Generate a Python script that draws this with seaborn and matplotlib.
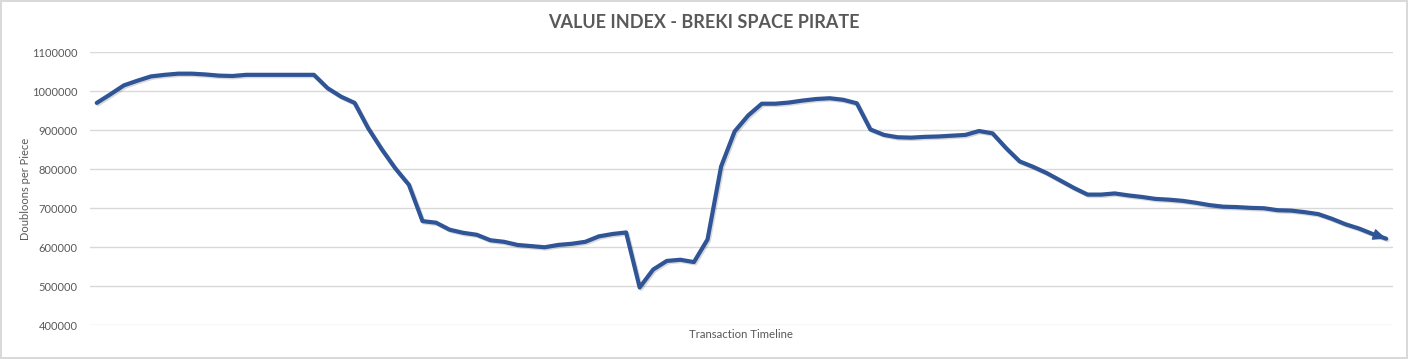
import numpy as np
import pandas as pd
import seaborn as sns
import matplotlib.pyplot as plt
import matplotlib.patheffects as pe

# Values (doubloons per piece, one per transaction)
values = [
    970000, 992000, 1015000, 1027000, 1038000, 1042000, 1045000, 1045000,
    1043000, 1040000, 1039000, 1042000, 1042000, 1042000, 1042000, 1042000,
    1042000, 1008000, 986000, 970000, 905000, 851000, 802000, 760000,
    667000, 663000, 645000, 637000, 632000, 618000, 614000, 606000,
    603000, 600000, 606000, 609000, 614000, 628000, 634000, 638000,
    497000, 543000, 565000, 568000, 562000, 620000, 807000, 897000,
    938000, 968000, 968000, 971000, 976000, 980000, 982000, 978000,
    969000, 902000, 888000, 882000, 881000, 883000, 884000, 886000,
    888000, 898000, 892000, 854000, 820000, 806000, 790000, 771000,
    752000, 735000, 735000, 738000, 733000, 729000, 724000, 722000,
    719000, 714000, 708000, 704000, 703000, 701000, 700000, 695000,
    694000, 690000, 685000, 673000, 659000, 648000, 634000, 622000,
]
transactions = list(range(len(values)))

y_ticks = [400000, 500000, 600000, 700000, 800000, 900000, 1000000, 1100000]

df = pd.DataFrame({"transaction": transactions, "value": values})

line_color = "#2F5597"
text_color = "#595959"
grid_color = "#D9D9D9"

sns.set_style("white")
plt.rcParams["font.family"] = ["Lato", "DejaVu Sans"]

fig = plt.figure(figsize=(14.08, 3.59), dpi=100, edgecolor=grid_color, linewidth=1.5)
ax = fig.add_axes([0.0639, 0.0939, 0.9254, 0.7607])

sns.lineplot(data=df, x="transaction", y="value", ax=ax, color=line_color,
             linewidth=3.0, solid_joinstyle="round",
             path_effects=[pe.SimpleLineShadow(offset=(1, -1), alpha=0.15, shadow_color="black"),
                           pe.Normal()])

# arrow head at the end of the line
ax.annotate("", xy=(transactions[-1], values[-1]), xytext=(transactions[-2], values[-2]),
            arrowprops=dict(arrowstyle="-|>,head_length=0.8,head_width=0.35",
                            mutation_scale=10, color=line_color, lw=1,
                            shrinkA=0, shrinkB=0))

ax.set_xlim(-0.5, len(values) - 0.5)
ax.set_ylim(y_ticks[0], y_ticks[-1])
ax.set_yticks(y_ticks)
ax.set_yticklabels([str(t) for t in y_ticks], color=text_color, fontsize=8)
ax.set_xticks([])
ax.tick_params(axis="y", length=0, pad=9)
ax.grid(axis="y", color=grid_color, linewidth=1)
ax.set_axisbelow(True)
sns.despine(ax=ax, left=True, bottom=True)

ax.set_ylabel("Doubloons per Piece", color=text_color, fontsize=8, labelpad=1)
ax.set_xlabel("Transaction Timeline", color=text_color, fontsize=8.2, labelpad=3)

fig.suptitle("VALUE INDEX - BREKI SPACE PIRATE", color=text_color, fontsize=13,
             fontweight="bold", y=0.96)

plt.savefig("out.png", dpi=100, edgecolor=fig.get_edgecolor())
plt.close()
